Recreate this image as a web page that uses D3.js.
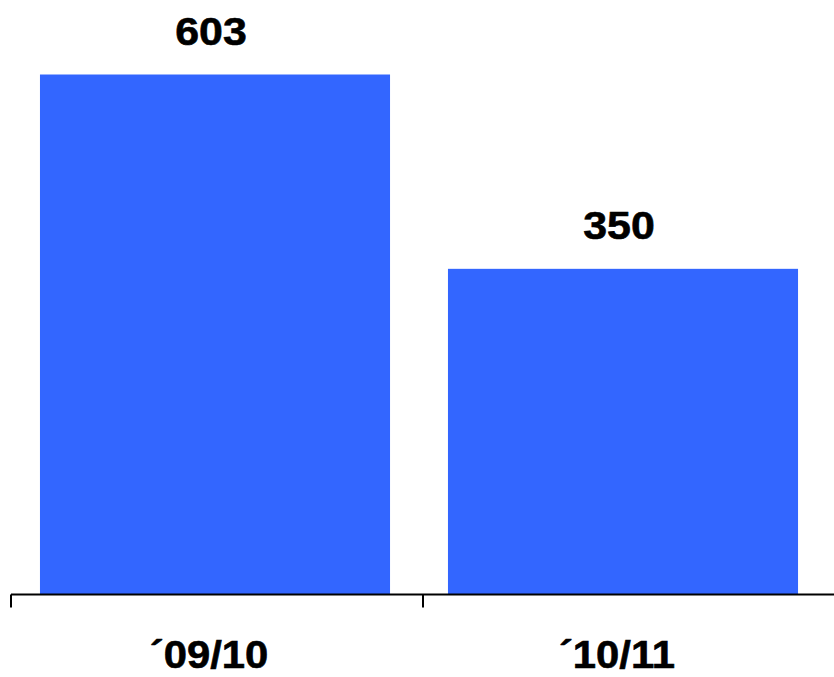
<!DOCTYPE html>
<html>
<head>
<meta charset="utf-8">
<script src="https://cdn.jsdelivr.net/npm/d3@7"></script>
<style>
  html, body { margin: 0; padding: 0; background: #fff; }
  svg { display: block; }
  text { font-family: "Liberation Sans", Arial, sans-serif; font-weight: bold; fill: #000;
         stroke: #000; stroke-width: 0.6px; }
</style>
</head>
<body>
<script>
// Season totals
const seasons = ["\u00B409/10", "\u00B410/11"];
const totals = [603, 350];

const width = 834, height = 677;
const svg = d3.select("body").append("svg")
  .attr("width", width).attr("height", height);

// Axis bands (tick marks sit on band boundaries)
const xAxisScale = d3.scaleBand().domain(seasons).range([11, 835]).padding(0);
// Bars inside each band
const xBar = d3.scaleBand().domain(seasons).range([11, 827])
  .paddingInner(0.142).paddingOuter(0.071);
// Value axis floor sits slightly below zero
const y = d3.scaleLinear().domain([-74, 700]).range([594.5, 0]);

// Bars
svg.selectAll("rect.bar").data(seasons).join("rect")
  .attr("class", "bar")
  .attr("x", d => xBar(d))
  .attr("width", xBar.bandwidth())
  .attr("y", (d, i) => y(totals[i]))
  .attr("height", (d, i) => y(y.domain()[0]) - y(totals[i]))
  .attr("fill", "#3366FF");

// Value labels (slightly widened bold face)
svg.selectAll("text.val").data(seasons).join("text")
  .attr("class", "val")
  .attr("transform", (d, i) =>
    `translate(${xBar(d) + xBar.bandwidth() / 2 - 4},${y(totals[i]) - 30}) scale(1.1,1)`)
  .attr("text-anchor", "middle")
  .attr("font-size", 39)
  .text((d, i) => totals[i]);

// Category axis: baseline plus boundary ticks
const axisY = y(y.domain()[0]);
svg.append("line")
  .attr("x1", xAxisScale.range()[0]).attr("x2", width)
  .attr("y1", axisY).attr("y2", axisY)
  .attr("stroke", "#000").attr("stroke-width", 2);
svg.selectAll("line.tick").data(seasons).join("line")
  .attr("class", "tick")
  .attr("x1", d => xAxisScale(d)).attr("x2", d => xAxisScale(d))
  .attr("y1", axisY).attr("y2", axisY + 13)
  .attr("stroke", "#000").attr("stroke-width", 2);

// Category labels
svg.selectAll("text.cat").data(seasons).join("text")
  .attr("class", "cat")
  .attr("transform", d =>
    `translate(${xBar(d) + xBar.bandwidth() / 2 - 6},668) scale(1.1,1)`)
  .attr("text-anchor", "middle")
  .attr("font-size", 38)
  .text(d => d);
</script>
</body>
</html>
